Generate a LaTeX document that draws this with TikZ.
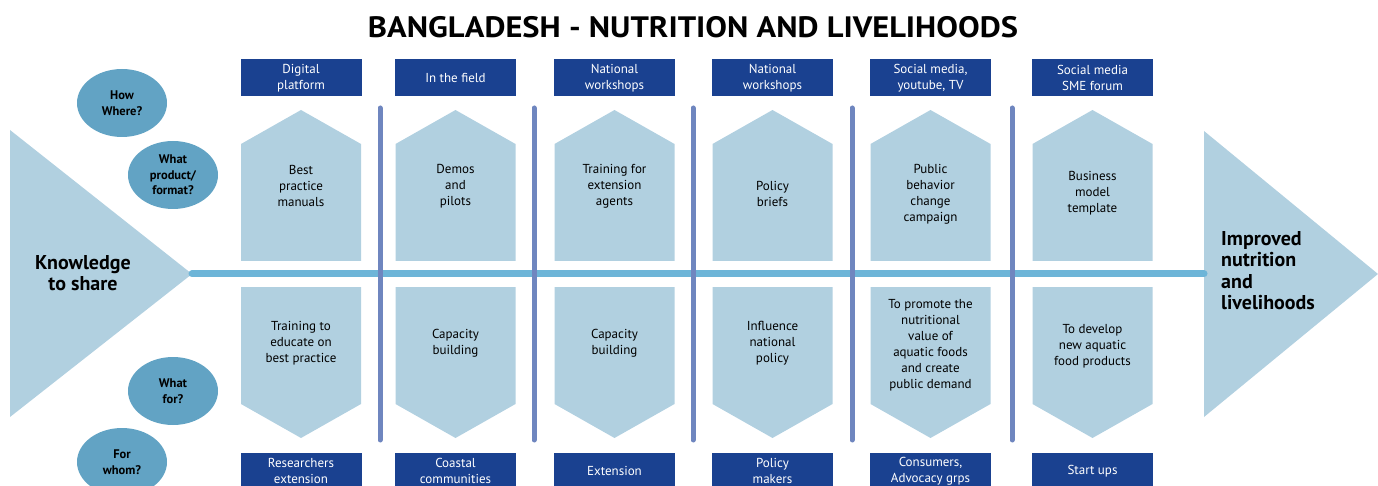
\documentclass[tikz,border=0pt]{standalone}
\usepackage{fontspec}
\setmainfont{PT Sans}
\newfontfamily\headfont[FakeStretch=1.1]{PT Sans}
\usetikzlibrary{shapes.geometric}
\definecolor{bdNavy}{HTML}{1A4190}
\definecolor{bdPale}{HTML}{B1D0E0}
\definecolor{bdSpine}{HTML}{6DB5D8}
\definecolor{bdSep}{HTML}{6F86BF}
\definecolor{bdOval}{HTML}{62A3C4}
\tikzset{
  chan/.style  = {fill=bdNavy, text=white, align=center, inner sep=0pt,
                  minimum width=121pt, minimum height=37pt,
                  font=\fontsize{13}{16}\selectfont},
  txt/.style   = {align=center, inner sep=0pt, font=\fontsize{13}{16}\selectfont},
  ask/.style   = {ellipse, fill=bdOval, align=center, inner sep=0pt,
                  minimum width=90pt, minimum height=68pt,
                  font=\fontsize{12.5}{15.5}\selectfont\bfseries},
  big/.style   = {inner sep=0pt, font=\fontsize{20}{21.5}\selectfont\bfseries},
  spine/.style = {draw=bdSpine, line width=7pt, line cap=round},
  sep/.style   = {draw=bdSep, line width=5pt, line cap=round},
}

\begin{document}
\begin{tikzpicture}[x=1pt, y=-1pt]
  \useasboundingbox (0,0) rectangle (1378,486);
  \node[inner sep=0pt, font=\headfont\fontsize{29.5}{31}\selectfont\bfseries] (title) at (693,27)
       {BANGLADESH - NUTRITION AND LIVELIHOODS};

  % head and tail of the fish
  \coordinate (knTip) at (192,274);
  \coordinate (impBase) at (1204,274);
  \fill[bdPale] (10,130) -- (knTip) -- (10,417) -- cycle;
  \fill[bdPale] (1204,131) -- (1378,274) -- (1204,417) -- cycle;
  \node[big, align=center] (kn) at (83,273) {Knowledge\\to share};
  \node[big, align=left, anchor=west] (imp) at (1221,270.5)
       {Improved\\nutrition\\and\\livelihoods};

  % questions down the left
  \node[ask] (qhow)  at (122,103) {How\\Where?};
  \node[ask] (qwhat) at (173,175) {What\\product/\\format?};
  \node[ask] (qfor)  at (173,391) {What\\for?};
  \node[ask] (qwho)  at (122,462) {For\\whom?};

  % arrow boxes above and below the spine
  \foreach \x in {301,455.5,614.5,772.5,930.5,1092.5}{
    \fill[bdPale] (\x,110) -- (\x+60,144) -- (\x+60,261) -- (\x-60,261)
                  -- (\x-60,144) -- cycle;
    \fill[bdPale] (\x-60,287) -- (\x+60,287) -- (\x+60,404) -- (\x,438)
                  -- (\x-60,404) -- cycle;
  }

  % spine and separators
  \draw[spine] (knTip) -- (impBase);
  \foreach \x in {380,534,693,852,1012}
    \draw[sep] (\x,108) -- (\x,440);

  % how / where
  \foreach \i/\x/\t in {1/301/{Digital\\platform}, 2/455.5/{In the field},
                        3/614.5/{National\\workshops}, 4/772.5/{National\\workshops},
                        5/930.5/{Social media,\\youtube, TV}, 6/1092.5/{Social media\\SME forum}}
    \node[chan] (how\i) at (\x,78) {\t};

  % products
  \foreach \i/\x/\y/\t in {1/301/186/{Best\\practice\\manuals}, 2/455.5/186/{Demos\\and\\pilots},
                           3/614.5/186/{Training for\\extension\\agents}, 4/772.5/193.5/{Policy\\briefs},
                           5/930.5/194/{Public\\behavior\\change\\campaign},
                           6/1092.5/193/{Business\\model\\template}}
    \node[txt] (prod\i) at (\x,\y) {\t};

  % aims
  \foreach \i/\x/\y/\t in {1/301/343/{Training to\\educate on\\best practice},
                           2/455.5/343/{Capacity\\building}, 3/614.5/343/{Capacity\\building},
                           4/772.5/343/{Influence\\national\\policy},
                           5/930.5/345/{To promote the\\nutritional\\value of\\aquatic foods\\and create\\public demand},
                           6/1092.5/346/{To develop\\new aquatic\\food products}}
    \node[txt] (aim\i) at (\x,\y) {\t};

  % audiences
  \foreach \i/\x/\t in {1/301/{Researchers\\extension}, 2/455.5/{Coastal\\communities},
                        3/614.5/{Extension}, 4/772.5/{Policy\\makers},
                        5/930.5/{Consumers,\\Advocacy grps}, 6/1092.5/{Start ups}}
    \node[chan] (who\i) at (\x,471) {\t};
\end{tikzpicture}
\end{document}
